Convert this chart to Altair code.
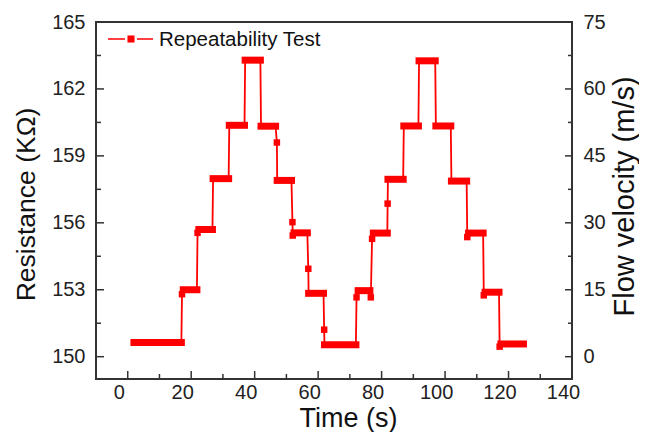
import altair as alt
import pandas as pd

# ---------------- data ----------------
# plateaus of the resistance signal (time in s, resistance in kOhm)
plateau_start = [1.95, 17.5, 22.4, 26.9, 32.0, 37.0, 42.0, 47.1, 52.4, 57.0, 62.0,
                 72.6, 77.4, 82.0, 87.0, 91.8, 97.1, 102.0, 107.4, 112.6, 117.6]
plateau_end = [16.9, 21.8, 26.7, 31.8, 36.8, 41.8, 46.6, 51.6, 56.6, 61.7, 71.9,
               76.3, 81.8, 86.8, 91.6, 96.9, 101.8, 106.8, 112.0, 117.0, 124.7]
plateau_level = [150.64, 153.0, 155.7, 157.98, 160.37, 163.29, 160.33, 157.9, 155.55,
                 152.84, 150.54, 152.96, 155.54, 157.95, 160.34, 163.26, 160.34,
                 157.87, 155.54, 152.89, 150.57]

# single samples between / at the edges of plateaus
extra_t = [17.1, 22.0, 47.0, 51.9, 52.0, 56.9, 61.9, 72.1, 76.6, 77.0, 81.9,
           107.0, 112.2, 117.2]
extra_r = [152.8, 155.55, 159.6, 156.03, 155.43, 153.94, 151.21, 152.66, 152.66,
           155.28, 156.86, 155.36, 152.75, 150.45]

x_major = [0, 20, 40, 60, 80, 100, 120, 140]
x_minor = [10, 30, 50, 70, 90, 110, 130]
y_major = [150, 153, 156, 159, 162, 165]
y_minor = [151.5, 154.5, 157.5, 160.5, 163.5]
flow_ticks = [0, 15, 30, 45, 60, 75]
legend_label = ["Repeatability Test"]

# ---------------- chart ----------------
RED = "#FF0000"
FONT = "Liberation Sans"
W, H = 476, 357


def xs():
    return alt.Scale(domain=[-10, 140], nice=False, zero=False)


def ys():
    return alt.Scale(domain=[149, 165], nice=False, zero=False)


fs = alt.Scale(domain=[-5, 75], nice=False, zero=False)

bands = pd.DataFrame({"start": plateau_start, "end": plateau_end, "level": plateau_level})

pts = [(s, l) for s, l in zip(plateau_start, plateau_level)]
pts += [(e, l) for e, l in zip(plateau_end, plateau_level)]
pts += list(zip(extra_t, extra_r))
pts.sort(key=lambda p: p[0])
path = pd.DataFrame({"t": [p[0] for p in pts], "r": [p[1] for p in pts],
                     "i": list(range(len(pts)))})
extras = pd.DataFrame({"t": extra_t, "r": extra_r})


def xaxis():
    return alt.Axis(values=x_major, ticks=False, domain=False, grid=False,
                    labelFontSize=20, labelFont=FONT, labelColor="#222",
                    labelPadding=3, labelOffset=-9, labelFlush=False, labelOverlap=False,
                    title="Time (s)", titleFontSize=27, titleFont=FONT,
                    titleFontWeight="normal", titleColor="#111",
                    titleX=252, titleY=47, titleBaseline="alphabetic", titleAlign="center")


yaxis = alt.Axis(values=y_major, ticks=False, domain=False, grid=False,
                 labelFontSize=20, labelFont=FONT, labelColor="#222",
                 labelPadding=11, labelOverlap=False,
                 title="Resistance (KΩ)", titleFontSize=26.5, titleFont=FONT,
                 titleFontWeight="normal", titleColor="#111", titleAngle=270,
                 titleX=-62, titleY=182, titleBaseline="alphabetic", titleAlign="center")
faxis = alt.Axis(orient="right", values=flow_ticks, ticks=False, domain=False, grid=False,
                 labelFontSize=20, labelFont=FONT, labelColor="#222",
                 labelPadding=11, labelOverlap=False,
                 title="Flow velocity (m/s)", titleFontSize=29, titleFont=FONT,
                 titleFontWeight="normal", titleColor="#111", titleAngle=270,
                 titleX=61, titleY=174, titleBaseline="alphabetic", titleAlign="center")

band_layer = alt.Chart(bands).mark_rule(color=RED, strokeWidth=7, strokeCap="square").encode(
    x=alt.X("start:Q", scale=xs(), axis=xaxis()),
    x2="end:Q",
    y=alt.Y("level:Q", scale=ys(), axis=yaxis),
)
line_layer = alt.Chart(path).mark_line(color=RED, strokeWidth=1.8).encode(
    x=alt.X("t:Q", scale=xs(), axis=xaxis()),
    y=alt.Y("r:Q", scale=ys(), axis=None),
    order="i:Q",
)
marker_layer = alt.Chart(extras).mark_square(color=RED, size=42, opacity=1).encode(
    x=alt.X("t:Q", scale=xs(), axis=xaxis()),
    y=alt.Y("r:Q", scale=ys(), axis=None),
)

TICK = "#333"
ymaj = pd.DataFrame({"v": y_major})
ymin = pd.DataFrame({"v": y_minor})
xmaj = pd.DataFrame({"v": x_major})
xmin = pd.DataFrame({"v": x_minor})


def yticks(df, x0, x1):
    return alt.Chart(df).mark_rule(color=TICK, strokeWidth=1.5).encode(
        x=alt.value(x0), x2=alt.value(x1), y=alt.Y("v:Q", scale=ys(), axis=None))


def xticks(df, length):
    return alt.Chart(df).mark_rule(color=TICK, strokeWidth=1.5).encode(
        x=alt.X("v:Q", scale=xs(), axis=xaxis()), y=alt.value(H), y2=alt.value(H - length))


tick_layers = [
    yticks(ymaj, 0, 8), yticks(ymin, 0, 5),
    yticks(ymaj, W, W - 7), yticks(ymin, W, W - 4),
    xticks(xmaj, 8), xticks(xmin, 5),
]

leg = pd.DataFrame({"label": legend_label})
leg_line1 = alt.Chart(leg).mark_rule(color=RED, strokeWidth=1.5).encode(
    x=alt.value(12), x2=alt.value(29), y=alt.value(17))
leg_line2 = alt.Chart(leg).mark_rule(color=RED, strokeWidth=1.5).encode(
    x=alt.value(41), x2=alt.value(57), y=alt.value(17))
leg_sq = alt.Chart(leg).mark_square(color=RED, size=50, opacity=1).encode(
    x=alt.value(35), y=alt.value(17))
leg_txt = alt.Chart(leg).mark_text(align="left", baseline="middle", fontSize=20.5,
                                   font=FONT, color="#111").encode(
    x=alt.value(63), y=alt.value(18), text="label:N")

flow_layer = alt.Chart(pd.DataFrame({"f": flow_ticks})).mark_point(opacity=0).encode(
    x=alt.value(0),
    y=alt.Y("f:Q", scale=fs, axis=faxis),
)

chart = alt.layer(band_layer, line_layer, marker_layer, *tick_layers,
                  leg_line1, leg_line2, leg_sq, leg_txt, flow_layer).resolve_scale(
    y="independent").properties(
    width=W, height=H,
    padding={"left": 88, "top": 14, "right": 67, "bottom": 53},
    autosize=alt.AutoSizeParams(type="none"),
).configure_view(stroke="#333", strokeWidth=2)

chart.save("out.html", embed_options={"renderer": "svg", "actions": False})
